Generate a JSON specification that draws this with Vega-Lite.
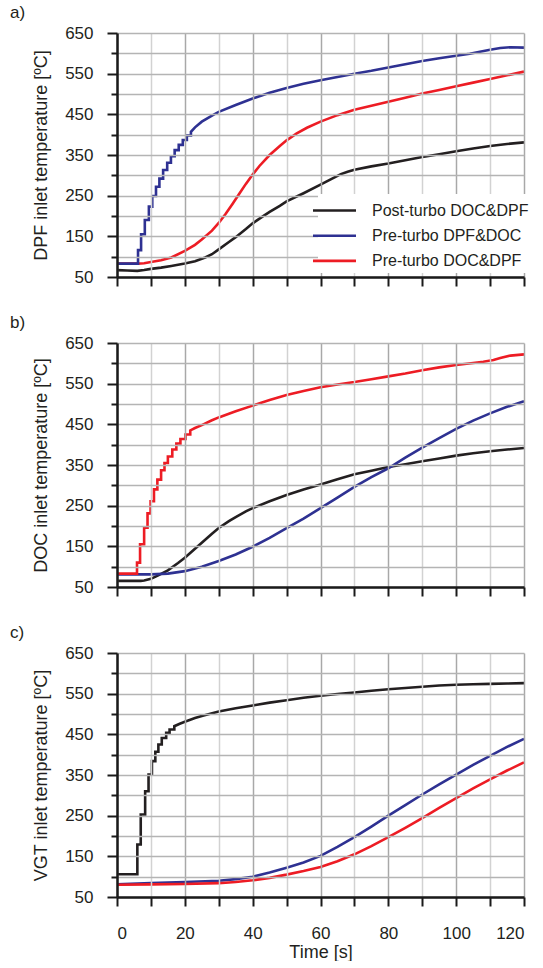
{
  "$schema": "https://vega.github.io/schema/vega-lite/v6.json",
  "padding": {"left": 10, "top": 4, "right": 0, "bottom": 0},
  "bounds": "flush",
  "spacing": 66,
  "config": {
    "font": "Liberation Sans",
    "view": {"stroke": null},
    "axis": {
      "labelFont": "Liberation Sans",
      "labelFontSize": 17,
      "labelColor": "#231f20",
      "titleFont": "Liberation Sans",
      "titleFontSize": 18,
      "titleFontWeight": "normal",
      "titleColor": "#231f20",
      "domainColor": "#1a1a1a",
      "domainWidth": 2.5,
      "tickColor": "#1a1a1a",
      "tickWidth": 2,
      "grid": true,
      "gridWidth": 1.5,
      "gridOpacity": 1,
      "zindex": 1
    },
    "title": {"font": "Liberation Sans", "fontSize": 17, "fontWeight": "normal", "color": "#231f20"},
    "line": {"strokeWidth": 2.6}
  },
  "resolve": {"scale": {"color": "independent"}, "legend": {"color": "independent"}},
  "datasets": {
    "temps": [
      {"panel": "a", "setup": "Post-turbo DOC&DPF", "time": 0, "temp": 67},
      {"panel": "a", "setup": "Post-turbo DOC&DPF", "time": 3, "temp": 66},
      {"panel": "a", "setup": "Post-turbo DOC&DPF", "time": 6, "temp": 65},
      {"panel": "a", "setup": "Post-turbo DOC&DPF", "time": 8, "temp": 67},
      {"panel": "a", "setup": "Post-turbo DOC&DPF", "time": 10, "temp": 70},
      {"panel": "a", "setup": "Post-turbo DOC&DPF", "time": 13, "temp": 73},
      {"panel": "a", "setup": "Post-turbo DOC&DPF", "time": 16, "temp": 77},
      {"panel": "a", "setup": "Post-turbo DOC&DPF", "time": 20, "temp": 83},
      {"panel": "a", "setup": "Post-turbo DOC&DPF", "time": 23, "temp": 89},
      {"panel": "a", "setup": "Post-turbo DOC&DPF", "time": 26, "temp": 98},
      {"panel": "a", "setup": "Post-turbo DOC&DPF", "time": 28, "temp": 106},
      {"panel": "a", "setup": "Post-turbo DOC&DPF", "time": 30, "temp": 118},
      {"panel": "a", "setup": "Post-turbo DOC&DPF", "time": 33, "temp": 136},
      {"panel": "a", "setup": "Post-turbo DOC&DPF", "time": 35, "temp": 148},
      {"panel": "a", "setup": "Post-turbo DOC&DPF", "time": 38, "temp": 168},
      {"panel": "a", "setup": "Post-turbo DOC&DPF", "time": 40, "temp": 182},
      {"panel": "a", "setup": "Post-turbo DOC&DPF", "time": 43, "temp": 199},
      {"panel": "a", "setup": "Post-turbo DOC&DPF", "time": 45, "temp": 210},
      {"panel": "a", "setup": "Post-turbo DOC&DPF", "time": 48, "temp": 225},
      {"panel": "a", "setup": "Post-turbo DOC&DPF", "time": 50, "temp": 236},
      {"panel": "a", "setup": "Post-turbo DOC&DPF", "time": 55, "temp": 256},
      {"panel": "a", "setup": "Post-turbo DOC&DPF", "time": 60, "temp": 277},
      {"panel": "a", "setup": "Post-turbo DOC&DPF", "time": 63, "temp": 290},
      {"panel": "a", "setup": "Post-turbo DOC&DPF", "time": 66, "temp": 303},
      {"panel": "a", "setup": "Post-turbo DOC&DPF", "time": 68, "temp": 309},
      {"panel": "a", "setup": "Post-turbo DOC&DPF", "time": 70, "temp": 314},
      {"panel": "a", "setup": "Post-turbo DOC&DPF", "time": 75, "temp": 322},
      {"panel": "a", "setup": "Post-turbo DOC&DPF", "time": 80, "temp": 329},
      {"panel": "a", "setup": "Post-turbo DOC&DPF", "time": 85, "temp": 337},
      {"panel": "a", "setup": "Post-turbo DOC&DPF", "time": 90, "temp": 345},
      {"panel": "a", "setup": "Post-turbo DOC&DPF", "time": 95, "temp": 352},
      {"panel": "a", "setup": "Post-turbo DOC&DPF", "time": 100, "temp": 359},
      {"panel": "a", "setup": "Post-turbo DOC&DPF", "time": 105, "temp": 366},
      {"panel": "a", "setup": "Post-turbo DOC&DPF", "time": 110, "temp": 372},
      {"panel": "a", "setup": "Post-turbo DOC&DPF", "time": 115, "temp": 377},
      {"panel": "a", "setup": "Post-turbo DOC&DPF", "time": 120, "temp": 381},

      {"panel": "a", "setup": "Pre-turbo DOC&DPF", "time": 0, "temp": 83},
      {"panel": "a", "setup": "Pre-turbo DOC&DPF", "time": 6, "temp": 83},
      {"panel": "a", "setup": "Pre-turbo DOC&DPF", "time": 8, "temp": 84},
      {"panel": "a", "setup": "Pre-turbo DOC&DPF", "time": 10, "temp": 87},
      {"panel": "a", "setup": "Pre-turbo DOC&DPF", "time": 13, "temp": 91},
      {"panel": "a", "setup": "Pre-turbo DOC&DPF", "time": 16, "temp": 98},
      {"panel": "a", "setup": "Pre-turbo DOC&DPF", "time": 20, "temp": 114},
      {"panel": "a", "setup": "Pre-turbo DOC&DPF", "time": 23, "temp": 129},
      {"panel": "a", "setup": "Pre-turbo DOC&DPF", "time": 25, "temp": 142},
      {"panel": "a", "setup": "Pre-turbo DOC&DPF", "time": 28, "temp": 164},
      {"panel": "a", "setup": "Pre-turbo DOC&DPF", "time": 30, "temp": 183},
      {"panel": "a", "setup": "Pre-turbo DOC&DPF", "time": 32, "temp": 205},
      {"panel": "a", "setup": "Pre-turbo DOC&DPF", "time": 34, "temp": 229},
      {"panel": "a", "setup": "Pre-turbo DOC&DPF", "time": 36, "temp": 254},
      {"panel": "a", "setup": "Pre-turbo DOC&DPF", "time": 38, "temp": 279},
      {"panel": "a", "setup": "Pre-turbo DOC&DPF", "time": 40, "temp": 302},
      {"panel": "a", "setup": "Pre-turbo DOC&DPF", "time": 42, "temp": 323},
      {"panel": "a", "setup": "Pre-turbo DOC&DPF", "time": 45, "temp": 350},
      {"panel": "a", "setup": "Pre-turbo DOC&DPF", "time": 48, "temp": 372},
      {"panel": "a", "setup": "Pre-turbo DOC&DPF", "time": 50, "temp": 386},
      {"panel": "a", "setup": "Pre-turbo DOC&DPF", "time": 53, "temp": 403},
      {"panel": "a", "setup": "Pre-turbo DOC&DPF", "time": 56, "temp": 417},
      {"panel": "a", "setup": "Pre-turbo DOC&DPF", "time": 60, "temp": 432},
      {"panel": "a", "setup": "Pre-turbo DOC&DPF", "time": 65, "temp": 448},
      {"panel": "a", "setup": "Pre-turbo DOC&DPF", "time": 70, "temp": 461},
      {"panel": "a", "setup": "Pre-turbo DOC&DPF", "time": 75, "temp": 471},
      {"panel": "a", "setup": "Pre-turbo DOC&DPF", "time": 80, "temp": 481},
      {"panel": "a", "setup": "Pre-turbo DOC&DPF", "time": 85, "temp": 491},
      {"panel": "a", "setup": "Pre-turbo DOC&DPF", "time": 90, "temp": 501},
      {"panel": "a", "setup": "Pre-turbo DOC&DPF", "time": 95, "temp": 510},
      {"panel": "a", "setup": "Pre-turbo DOC&DPF", "time": 100, "temp": 519},
      {"panel": "a", "setup": "Pre-turbo DOC&DPF", "time": 105, "temp": 528},
      {"panel": "a", "setup": "Pre-turbo DOC&DPF", "time": 110, "temp": 537},
      {"panel": "a", "setup": "Pre-turbo DOC&DPF", "time": 115, "temp": 546},
      {"panel": "a", "setup": "Pre-turbo DOC&DPF", "time": 120, "temp": 555},

      {"panel": "a", "setup": "Pre-turbo DPF&DOC", "time": 0, "temp": 83},
      {"panel": "a", "setup": "Pre-turbo DPF&DOC", "time": 6.2, "temp": 83},
      {"panel": "a", "setup": "Pre-turbo DPF&DOC", "time": 6.2, "temp": 116},
      {"panel": "a", "setup": "Pre-turbo DPF&DOC", "time": 7.1, "temp": 116},
      {"panel": "a", "setup": "Pre-turbo DPF&DOC", "time": 7.1, "temp": 155},
      {"panel": "a", "setup": "Pre-turbo DPF&DOC", "time": 8.2, "temp": 155},
      {"panel": "a", "setup": "Pre-turbo DPF&DOC", "time": 8.2, "temp": 190},
      {"panel": "a", "setup": "Pre-turbo DPF&DOC", "time": 9.4, "temp": 190},
      {"panel": "a", "setup": "Pre-turbo DPF&DOC", "time": 9.4, "temp": 223},
      {"panel": "a", "setup": "Pre-turbo DPF&DOC", "time": 10.4, "temp": 223},
      {"panel": "a", "setup": "Pre-turbo DPF&DOC", "time": 10.4, "temp": 249},
      {"panel": "a", "setup": "Pre-turbo DPF&DOC", "time": 11.5, "temp": 249},
      {"panel": "a", "setup": "Pre-turbo DPF&DOC", "time": 11.5, "temp": 272},
      {"panel": "a", "setup": "Pre-turbo DPF&DOC", "time": 12.5, "temp": 272},
      {"panel": "a", "setup": "Pre-turbo DPF&DOC", "time": 12.5, "temp": 292},
      {"panel": "a", "setup": "Pre-turbo DPF&DOC", "time": 13.6, "temp": 292},
      {"panel": "a", "setup": "Pre-turbo DPF&DOC", "time": 13.6, "temp": 313},
      {"panel": "a", "setup": "Pre-turbo DPF&DOC", "time": 14.8, "temp": 313},
      {"panel": "a", "setup": "Pre-turbo DPF&DOC", "time": 14.8, "temp": 331},
      {"panel": "a", "setup": "Pre-turbo DPF&DOC", "time": 15.9, "temp": 331},
      {"panel": "a", "setup": "Pre-turbo DPF&DOC", "time": 15.9, "temp": 347},
      {"panel": "a", "setup": "Pre-turbo DPF&DOC", "time": 17.0, "temp": 347},
      {"panel": "a", "setup": "Pre-turbo DPF&DOC", "time": 17.0, "temp": 362},
      {"panel": "a", "setup": "Pre-turbo DPF&DOC", "time": 18.2, "temp": 362},
      {"panel": "a", "setup": "Pre-turbo DPF&DOC", "time": 18.2, "temp": 375},
      {"panel": "a", "setup": "Pre-turbo DPF&DOC", "time": 19.4, "temp": 375},
      {"panel": "a", "setup": "Pre-turbo DPF&DOC", "time": 19.4, "temp": 387},
      {"panel": "a", "setup": "Pre-turbo DPF&DOC", "time": 20.6, "temp": 387},
      {"panel": "a", "setup": "Pre-turbo DPF&DOC", "time": 20.6, "temp": 398},
      {"panel": "a", "setup": "Pre-turbo DPF&DOC", "time": 21.8, "temp": 398},
      {"panel": "a", "setup": "Pre-turbo DPF&DOC", "time": 21.8, "temp": 407},
      {"panel": "a", "setup": "Pre-turbo DPF&DOC", "time": 23, "temp": 418},
      {"panel": "a", "setup": "Pre-turbo DPF&DOC", "time": 25, "temp": 432},
      {"panel": "a", "setup": "Pre-turbo DPF&DOC", "time": 28, "temp": 447},
      {"panel": "a", "setup": "Pre-turbo DPF&DOC", "time": 30, "temp": 456},
      {"panel": "a", "setup": "Pre-turbo DPF&DOC", "time": 35, "temp": 473},
      {"panel": "a", "setup": "Pre-turbo DPF&DOC", "time": 40, "temp": 489},
      {"panel": "a", "setup": "Pre-turbo DPF&DOC", "time": 45, "temp": 503},
      {"panel": "a", "setup": "Pre-turbo DPF&DOC", "time": 50, "temp": 515},
      {"panel": "a", "setup": "Pre-turbo DPF&DOC", "time": 55, "temp": 525},
      {"panel": "a", "setup": "Pre-turbo DPF&DOC", "time": 60, "temp": 534},
      {"panel": "a", "setup": "Pre-turbo DPF&DOC", "time": 65, "temp": 542},
      {"panel": "a", "setup": "Pre-turbo DPF&DOC", "time": 70, "temp": 550},
      {"panel": "a", "setup": "Pre-turbo DPF&DOC", "time": 75, "temp": 557},
      {"panel": "a", "setup": "Pre-turbo DPF&DOC", "time": 80, "temp": 565},
      {"panel": "a", "setup": "Pre-turbo DPF&DOC", "time": 85, "temp": 573},
      {"panel": "a", "setup": "Pre-turbo DPF&DOC", "time": 90, "temp": 581},
      {"panel": "a", "setup": "Pre-turbo DPF&DOC", "time": 95, "temp": 588},
      {"panel": "a", "setup": "Pre-turbo DPF&DOC", "time": 100, "temp": 594},
      {"panel": "a", "setup": "Pre-turbo DPF&DOC", "time": 104, "temp": 599},
      {"panel": "a", "setup": "Pre-turbo DPF&DOC", "time": 107, "temp": 604},
      {"panel": "a", "setup": "Pre-turbo DPF&DOC", "time": 110, "temp": 609},
      {"panel": "a", "setup": "Pre-turbo DPF&DOC", "time": 113, "temp": 613},
      {"panel": "a", "setup": "Pre-turbo DPF&DOC", "time": 116, "temp": 615},
      {"panel": "a", "setup": "Pre-turbo DPF&DOC", "time": 120, "temp": 614},

      {"panel": "b", "setup": "Post-turbo DOC&DPF", "time": 0, "temp": 65},
      {"panel": "b", "setup": "Post-turbo DOC&DPF", "time": 7, "temp": 65},
      {"panel": "b", "setup": "Post-turbo DOC&DPF", "time": 8, "temp": 66},
      {"panel": "b", "setup": "Post-turbo DOC&DPF", "time": 10, "temp": 70},
      {"panel": "b", "setup": "Post-turbo DOC&DPF", "time": 12, "temp": 78},
      {"panel": "b", "setup": "Post-turbo DOC&DPF", "time": 15, "temp": 91},
      {"panel": "b", "setup": "Post-turbo DOC&DPF", "time": 18, "temp": 109},
      {"panel": "b", "setup": "Post-turbo DOC&DPF", "time": 20, "temp": 122},
      {"panel": "b", "setup": "Post-turbo DOC&DPF", "time": 23, "temp": 144},
      {"panel": "b", "setup": "Post-turbo DOC&DPF", "time": 25, "temp": 159},
      {"panel": "b", "setup": "Post-turbo DOC&DPF", "time": 28, "temp": 181},
      {"panel": "b", "setup": "Post-turbo DOC&DPF", "time": 30, "temp": 195},
      {"panel": "b", "setup": "Post-turbo DOC&DPF", "time": 33, "temp": 212},
      {"panel": "b", "setup": "Post-turbo DOC&DPF", "time": 35, "temp": 222},
      {"panel": "b", "setup": "Post-turbo DOC&DPF", "time": 38, "temp": 236},
      {"panel": "b", "setup": "Post-turbo DOC&DPF", "time": 40, "temp": 244},
      {"panel": "b", "setup": "Post-turbo DOC&DPF", "time": 45, "temp": 261},
      {"panel": "b", "setup": "Post-turbo DOC&DPF", "time": 50, "temp": 276},
      {"panel": "b", "setup": "Post-turbo DOC&DPF", "time": 55, "temp": 290},
      {"panel": "b", "setup": "Post-turbo DOC&DPF", "time": 60, "temp": 302},
      {"panel": "b", "setup": "Post-turbo DOC&DPF", "time": 65, "temp": 315},
      {"panel": "b", "setup": "Post-turbo DOC&DPF", "time": 70, "temp": 327},
      {"panel": "b", "setup": "Post-turbo DOC&DPF", "time": 75, "temp": 336},
      {"panel": "b", "setup": "Post-turbo DOC&DPF", "time": 80, "temp": 345},
      {"panel": "b", "setup": "Post-turbo DOC&DPF", "time": 85, "temp": 352},
      {"panel": "b", "setup": "Post-turbo DOC&DPF", "time": 90, "temp": 359},
      {"panel": "b", "setup": "Post-turbo DOC&DPF", "time": 95, "temp": 366},
      {"panel": "b", "setup": "Post-turbo DOC&DPF", "time": 100, "temp": 373},
      {"panel": "b", "setup": "Post-turbo DOC&DPF", "time": 105, "temp": 379},
      {"panel": "b", "setup": "Post-turbo DOC&DPF", "time": 110, "temp": 384},
      {"panel": "b", "setup": "Post-turbo DOC&DPF", "time": 115, "temp": 388},
      {"panel": "b", "setup": "Post-turbo DOC&DPF", "time": 120, "temp": 392},

      {"panel": "b", "setup": "Pre-turbo DPF&DOC", "time": 0, "temp": 81},
      {"panel": "b", "setup": "Pre-turbo DPF&DOC", "time": 10, "temp": 81},
      {"panel": "b", "setup": "Pre-turbo DPF&DOC", "time": 15, "temp": 83},
      {"panel": "b", "setup": "Pre-turbo DPF&DOC", "time": 20, "temp": 89},
      {"panel": "b", "setup": "Pre-turbo DPF&DOC", "time": 25, "temp": 100},
      {"panel": "b", "setup": "Pre-turbo DPF&DOC", "time": 30, "temp": 114},
      {"panel": "b", "setup": "Pre-turbo DPF&DOC", "time": 35, "temp": 130},
      {"panel": "b", "setup": "Pre-turbo DPF&DOC", "time": 40, "temp": 149},
      {"panel": "b", "setup": "Pre-turbo DPF&DOC", "time": 45, "temp": 171},
      {"panel": "b", "setup": "Pre-turbo DPF&DOC", "time": 50, "temp": 195},
      {"panel": "b", "setup": "Pre-turbo DPF&DOC", "time": 55, "temp": 218},
      {"panel": "b", "setup": "Pre-turbo DPF&DOC", "time": 60, "temp": 244},
      {"panel": "b", "setup": "Pre-turbo DPF&DOC", "time": 65, "temp": 270},
      {"panel": "b", "setup": "Pre-turbo DPF&DOC", "time": 70, "temp": 296},
      {"panel": "b", "setup": "Pre-turbo DPF&DOC", "time": 75, "temp": 320},
      {"panel": "b", "setup": "Pre-turbo DPF&DOC", "time": 80, "temp": 342},
      {"panel": "b", "setup": "Pre-turbo DPF&DOC", "time": 85, "temp": 368},
      {"panel": "b", "setup": "Pre-turbo DPF&DOC", "time": 90, "temp": 393},
      {"panel": "b", "setup": "Pre-turbo DPF&DOC", "time": 95, "temp": 416},
      {"panel": "b", "setup": "Pre-turbo DPF&DOC", "time": 100, "temp": 439},
      {"panel": "b", "setup": "Pre-turbo DPF&DOC", "time": 105, "temp": 459},
      {"panel": "b", "setup": "Pre-turbo DPF&DOC", "time": 110, "temp": 477},
      {"panel": "b", "setup": "Pre-turbo DPF&DOC", "time": 115, "temp": 493},
      {"panel": "b", "setup": "Pre-turbo DPF&DOC", "time": 120, "temp": 507},

      {"panel": "b", "setup": "Pre-turbo DOC&DPF", "time": 0, "temp": 83},
      {"panel": "b", "setup": "Pre-turbo DOC&DPF", "time": 5.9, "temp": 83},
      {"panel": "b", "setup": "Pre-turbo DOC&DPF", "time": 5.9, "temp": 110},
      {"panel": "b", "setup": "Pre-turbo DOC&DPF", "time": 6.8, "temp": 110},
      {"panel": "b", "setup": "Pre-turbo DOC&DPF", "time": 6.8, "temp": 155},
      {"panel": "b", "setup": "Pre-turbo DOC&DPF", "time": 8.0, "temp": 155},
      {"panel": "b", "setup": "Pre-turbo DOC&DPF", "time": 8.0, "temp": 196},
      {"panel": "b", "setup": "Pre-turbo DOC&DPF", "time": 9.0, "temp": 196},
      {"panel": "b", "setup": "Pre-turbo DOC&DPF", "time": 9.0, "temp": 231},
      {"panel": "b", "setup": "Pre-turbo DOC&DPF", "time": 9.9, "temp": 231},
      {"panel": "b", "setup": "Pre-turbo DOC&DPF", "time": 9.9, "temp": 261},
      {"panel": "b", "setup": "Pre-turbo DOC&DPF", "time": 10.9, "temp": 261},
      {"panel": "b", "setup": "Pre-turbo DOC&DPF", "time": 10.9, "temp": 290},
      {"panel": "b", "setup": "Pre-turbo DOC&DPF", "time": 11.9, "temp": 290},
      {"panel": "b", "setup": "Pre-turbo DOC&DPF", "time": 11.9, "temp": 314},
      {"panel": "b", "setup": "Pre-turbo DOC&DPF", "time": 13.0, "temp": 314},
      {"panel": "b", "setup": "Pre-turbo DOC&DPF", "time": 13.0, "temp": 337},
      {"panel": "b", "setup": "Pre-turbo DOC&DPF", "time": 14.0, "temp": 337},
      {"panel": "b", "setup": "Pre-turbo DOC&DPF", "time": 14.0, "temp": 355},
      {"panel": "b", "setup": "Pre-turbo DOC&DPF", "time": 15.0, "temp": 355},
      {"panel": "b", "setup": "Pre-turbo DOC&DPF", "time": 15.0, "temp": 371},
      {"panel": "b", "setup": "Pre-turbo DOC&DPF", "time": 16.3, "temp": 371},
      {"panel": "b", "setup": "Pre-turbo DOC&DPF", "time": 16.3, "temp": 388},
      {"panel": "b", "setup": "Pre-turbo DOC&DPF", "time": 17.5, "temp": 388},
      {"panel": "b", "setup": "Pre-turbo DOC&DPF", "time": 17.5, "temp": 403},
      {"panel": "b", "setup": "Pre-turbo DOC&DPF", "time": 18.7, "temp": 403},
      {"panel": "b", "setup": "Pre-turbo DOC&DPF", "time": 18.7, "temp": 414},
      {"panel": "b", "setup": "Pre-turbo DOC&DPF", "time": 20.2, "temp": 414},
      {"panel": "b", "setup": "Pre-turbo DOC&DPF", "time": 20.2, "temp": 425},
      {"panel": "b", "setup": "Pre-turbo DOC&DPF", "time": 21.6, "temp": 425},
      {"panel": "b", "setup": "Pre-turbo DOC&DPF", "time": 21.6, "temp": 435},
      {"panel": "b", "setup": "Pre-turbo DOC&DPF", "time": 23, "temp": 441},
      {"panel": "b", "setup": "Pre-turbo DOC&DPF", "time": 25, "temp": 448},
      {"panel": "b", "setup": "Pre-turbo DOC&DPF", "time": 28, "temp": 460},
      {"panel": "b", "setup": "Pre-turbo DOC&DPF", "time": 30, "temp": 467},
      {"panel": "b", "setup": "Pre-turbo DOC&DPF", "time": 35, "temp": 482},
      {"panel": "b", "setup": "Pre-turbo DOC&DPF", "time": 40, "temp": 496},
      {"panel": "b", "setup": "Pre-turbo DOC&DPF", "time": 45, "temp": 510},
      {"panel": "b", "setup": "Pre-turbo DOC&DPF", "time": 50, "temp": 522},
      {"panel": "b", "setup": "Pre-turbo DOC&DPF", "time": 55, "temp": 532},
      {"panel": "b", "setup": "Pre-turbo DOC&DPF", "time": 60, "temp": 541},
      {"panel": "b", "setup": "Pre-turbo DOC&DPF", "time": 65, "temp": 548},
      {"panel": "b", "setup": "Pre-turbo DOC&DPF", "time": 70, "temp": 554},
      {"panel": "b", "setup": "Pre-turbo DOC&DPF", "time": 75, "temp": 561},
      {"panel": "b", "setup": "Pre-turbo DOC&DPF", "time": 80, "temp": 568},
      {"panel": "b", "setup": "Pre-turbo DOC&DPF", "time": 85, "temp": 575},
      {"panel": "b", "setup": "Pre-turbo DOC&DPF", "time": 90, "temp": 583},
      {"panel": "b", "setup": "Pre-turbo DOC&DPF", "time": 95, "temp": 590},
      {"panel": "b", "setup": "Pre-turbo DOC&DPF", "time": 100, "temp": 596},
      {"panel": "b", "setup": "Pre-turbo DOC&DPF", "time": 105, "temp": 601},
      {"panel": "b", "setup": "Pre-turbo DOC&DPF", "time": 108, "temp": 604},
      {"panel": "b", "setup": "Pre-turbo DOC&DPF", "time": 111, "temp": 608},
      {"panel": "b", "setup": "Pre-turbo DOC&DPF", "time": 113, "temp": 613},
      {"panel": "b", "setup": "Pre-turbo DOC&DPF", "time": 116, "temp": 619},
      {"panel": "b", "setup": "Pre-turbo DOC&DPF", "time": 120, "temp": 622},

      {"panel": "c", "setup": "Post-turbo DOC&DPF", "time": 0, "temp": 106},
      {"panel": "c", "setup": "Post-turbo DOC&DPF", "time": 6.0, "temp": 106},
      {"panel": "c", "setup": "Post-turbo DOC&DPF", "time": 6.0, "temp": 179},
      {"panel": "c", "setup": "Post-turbo DOC&DPF", "time": 7.0, "temp": 179},
      {"panel": "c", "setup": "Post-turbo DOC&DPF", "time": 7.0, "temp": 253},
      {"panel": "c", "setup": "Post-turbo DOC&DPF", "time": 8.3, "temp": 253},
      {"panel": "c", "setup": "Post-turbo DOC&DPF", "time": 8.3, "temp": 310},
      {"panel": "c", "setup": "Post-turbo DOC&DPF", "time": 9.3, "temp": 310},
      {"panel": "c", "setup": "Post-turbo DOC&DPF", "time": 9.3, "temp": 351},
      {"panel": "c", "setup": "Post-turbo DOC&DPF", "time": 10.3, "temp": 351},
      {"panel": "c", "setup": "Post-turbo DOC&DPF", "time": 10.3, "temp": 384},
      {"panel": "c", "setup": "Post-turbo DOC&DPF", "time": 11.3, "temp": 384},
      {"panel": "c", "setup": "Post-turbo DOC&DPF", "time": 11.3, "temp": 407},
      {"panel": "c", "setup": "Post-turbo DOC&DPF", "time": 12.2, "temp": 407},
      {"panel": "c", "setup": "Post-turbo DOC&DPF", "time": 12.2, "temp": 425},
      {"panel": "c", "setup": "Post-turbo DOC&DPF", "time": 13.2, "temp": 425},
      {"panel": "c", "setup": "Post-turbo DOC&DPF", "time": 13.2, "temp": 441},
      {"panel": "c", "setup": "Post-turbo DOC&DPF", "time": 14.5, "temp": 441},
      {"panel": "c", "setup": "Post-turbo DOC&DPF", "time": 14.5, "temp": 454},
      {"panel": "c", "setup": "Post-turbo DOC&DPF", "time": 15.5, "temp": 454},
      {"panel": "c", "setup": "Post-turbo DOC&DPF", "time": 15.5, "temp": 462},
      {"panel": "c", "setup": "Post-turbo DOC&DPF", "time": 16.9, "temp": 462},
      {"panel": "c", "setup": "Post-turbo DOC&DPF", "time": 16.9, "temp": 470},
      {"panel": "c", "setup": "Post-turbo DOC&DPF", "time": 18.5, "temp": 476},
      {"panel": "c", "setup": "Post-turbo DOC&DPF", "time": 20, "temp": 481},
      {"panel": "c", "setup": "Post-turbo DOC&DPF", "time": 23, "temp": 490},
      {"panel": "c", "setup": "Post-turbo DOC&DPF", "time": 25, "temp": 495},
      {"panel": "c", "setup": "Post-turbo DOC&DPF", "time": 30, "temp": 506},
      {"panel": "c", "setup": "Post-turbo DOC&DPF", "time": 35, "temp": 514},
      {"panel": "c", "setup": "Post-turbo DOC&DPF", "time": 40, "temp": 521},
      {"panel": "c", "setup": "Post-turbo DOC&DPF", "time": 45, "temp": 528},
      {"panel": "c", "setup": "Post-turbo DOC&DPF", "time": 50, "temp": 534},
      {"panel": "c", "setup": "Post-turbo DOC&DPF", "time": 55, "temp": 540},
      {"panel": "c", "setup": "Post-turbo DOC&DPF", "time": 60, "temp": 545},
      {"panel": "c", "setup": "Post-turbo DOC&DPF", "time": 65, "temp": 549},
      {"panel": "c", "setup": "Post-turbo DOC&DPF", "time": 70, "temp": 553},
      {"panel": "c", "setup": "Post-turbo DOC&DPF", "time": 75, "temp": 557},
      {"panel": "c", "setup": "Post-turbo DOC&DPF", "time": 80, "temp": 561},
      {"panel": "c", "setup": "Post-turbo DOC&DPF", "time": 85, "temp": 564},
      {"panel": "c", "setup": "Post-turbo DOC&DPF", "time": 90, "temp": 567},
      {"panel": "c", "setup": "Post-turbo DOC&DPF", "time": 95, "temp": 570},
      {"panel": "c", "setup": "Post-turbo DOC&DPF", "time": 100, "temp": 572},
      {"panel": "c", "setup": "Post-turbo DOC&DPF", "time": 105, "temp": 573},
      {"panel": "c", "setup": "Post-turbo DOC&DPF", "time": 110, "temp": 574},
      {"panel": "c", "setup": "Post-turbo DOC&DPF", "time": 115, "temp": 575},
      {"panel": "c", "setup": "Post-turbo DOC&DPF", "time": 120, "temp": 576},

      {"panel": "c", "setup": "Pre-turbo DPF&DOC", "time": 0, "temp": 81},
      {"panel": "c", "setup": "Pre-turbo DPF&DOC", "time": 10, "temp": 84},
      {"panel": "c", "setup": "Pre-turbo DPF&DOC", "time": 20, "temp": 87},
      {"panel": "c", "setup": "Pre-turbo DPF&DOC", "time": 30, "temp": 90},
      {"panel": "c", "setup": "Pre-turbo DPF&DOC", "time": 35, "temp": 94},
      {"panel": "c", "setup": "Pre-turbo DPF&DOC", "time": 40, "temp": 100},
      {"panel": "c", "setup": "Pre-turbo DPF&DOC", "time": 45, "temp": 110},
      {"panel": "c", "setup": "Pre-turbo DPF&DOC", "time": 50, "temp": 122},
      {"panel": "c", "setup": "Pre-turbo DPF&DOC", "time": 55, "temp": 135},
      {"panel": "c", "setup": "Pre-turbo DPF&DOC", "time": 60, "temp": 151},
      {"panel": "c", "setup": "Pre-turbo DPF&DOC", "time": 65, "temp": 173},
      {"panel": "c", "setup": "Pre-turbo DPF&DOC", "time": 70, "temp": 197},
      {"panel": "c", "setup": "Pre-turbo DPF&DOC", "time": 75, "temp": 223},
      {"panel": "c", "setup": "Pre-turbo DPF&DOC", "time": 80, "temp": 250},
      {"panel": "c", "setup": "Pre-turbo DPF&DOC", "time": 85, "temp": 276},
      {"panel": "c", "setup": "Pre-turbo DPF&DOC", "time": 90, "temp": 302},
      {"panel": "c", "setup": "Pre-turbo DPF&DOC", "time": 95, "temp": 327},
      {"panel": "c", "setup": "Pre-turbo DPF&DOC", "time": 100, "temp": 351},
      {"panel": "c", "setup": "Pre-turbo DPF&DOC", "time": 105, "temp": 375},
      {"panel": "c", "setup": "Pre-turbo DPF&DOC", "time": 110, "temp": 397},
      {"panel": "c", "setup": "Pre-turbo DPF&DOC", "time": 115, "temp": 419},
      {"panel": "c", "setup": "Pre-turbo DPF&DOC", "time": 120, "temp": 439},

      {"panel": "c", "setup": "Pre-turbo DOC&DPF", "time": 0, "temp": 80},
      {"panel": "c", "setup": "Pre-turbo DOC&DPF", "time": 10, "temp": 81},
      {"panel": "c", "setup": "Pre-turbo DOC&DPF", "time": 20, "temp": 82},
      {"panel": "c", "setup": "Pre-turbo DOC&DPF", "time": 30, "temp": 84},
      {"panel": "c", "setup": "Pre-turbo DOC&DPF", "time": 35, "temp": 87},
      {"panel": "c", "setup": "Pre-turbo DOC&DPF", "time": 40, "temp": 91},
      {"panel": "c", "setup": "Pre-turbo DOC&DPF", "time": 45, "temp": 97},
      {"panel": "c", "setup": "Pre-turbo DOC&DPF", "time": 50, "temp": 105},
      {"panel": "c", "setup": "Pre-turbo DOC&DPF", "time": 55, "temp": 114},
      {"panel": "c", "setup": "Pre-turbo DOC&DPF", "time": 60, "temp": 124},
      {"panel": "c", "setup": "Pre-turbo DOC&DPF", "time": 65, "temp": 138},
      {"panel": "c", "setup": "Pre-turbo DOC&DPF", "time": 70, "temp": 155},
      {"panel": "c", "setup": "Pre-turbo DOC&DPF", "time": 75, "temp": 175},
      {"panel": "c", "setup": "Pre-turbo DOC&DPF", "time": 80, "temp": 197},
      {"panel": "c", "setup": "Pre-turbo DOC&DPF", "time": 85, "temp": 220},
      {"panel": "c", "setup": "Pre-turbo DOC&DPF", "time": 90, "temp": 244},
      {"panel": "c", "setup": "Pre-turbo DOC&DPF", "time": 95, "temp": 269},
      {"panel": "c", "setup": "Pre-turbo DOC&DPF", "time": 100, "temp": 293},
      {"panel": "c", "setup": "Pre-turbo DOC&DPF", "time": 105, "temp": 317},
      {"panel": "c", "setup": "Pre-turbo DOC&DPF", "time": 110, "temp": 339},
      {"panel": "c", "setup": "Pre-turbo DOC&DPF", "time": 115, "temp": 361},
      {"panel": "c", "setup": "Pre-turbo DOC&DPF", "time": 120, "temp": 381}
    ]
  },
  "vconcat": [
    {
      "title": {"text": "a)", "anchor": "start", "frame": "group", "dx": -107, "offset": -11, "baseline": "alphabetic"},
      "width": 407,
      "height": 244,
      "data": {"name": "temps"},
      "transform": [{"filter": "datum.panel === 'a'"}],
      "mark": {"type": "line", "strokeWidth": 2.6},
      "encoding": {
        "x": {"field": "time", "type": "quantitative", "scale": {"domain": [0, 120], "nice": false},
          "axis": {"title": null, "values": [0, 10, 20, 30, 40, 50, 60, 70, 80, 90, 100, 110, 120], "labels": false, "tickSize": 9, "zindex": 1,
            "gridColor": {"condition": {"test": "datum.value % 20 === 0", "value": "#a8a8a8"}, "value": "#d2d2d2"}}},
        "y": {"field": "temp", "type": "quantitative", "scale": {"domain": [50, 650], "nice": false, "zero": false},
          "axis": {"title": "DPF inlet temperature [ºC]", "values": [50, 100, 150, 200, 250, 300, 350, 400, 450, 500, 550, 600, 650],
            "labelExpr": "datum.value % 100 === 50 ? datum.label : ''", "zindex": 1,
            "tickSize": {"condition": {"test": "datum.value % 100 === 50", "value": 10}, "value": 6},
            "gridColor": "#b4b4b4", "labelPadding": 14, "titlePadding": 14}},
        "color": {"field": "setup", "type": "nominal",
          "scale": {"domain": ["Post-turbo DOC&DPF", "Pre-turbo DPF&DOC", "Pre-turbo DOC&DPF"], "range": ["#231f20", "#2e3192", "#ed1c24"]},
          "legend": {"orient": "none", "legendX": 201, "legendY": 161, "title": null, "symbolType": "M-2,0H2", "symbolSize": 462,
            "symbolStrokeWidth": 3.5, "labelFontSize": 16, "labelFont": "Liberation Sans", "labelColor": "#231f20", "labelOffset": 25,
            "rowPadding": 4.2, "fillColor": "#ffffff", "padding": 4, "labelLimit": 300, "zindex": 2}},
        "order": [{"field": "time"}, {"field": "temp"}]
      }
    },
    {
      "title": {"text": "b)", "anchor": "start", "frame": "group", "dx": -107, "offset": -11, "baseline": "alphabetic"},
      "width": 407,
      "height": 244,
      "data": {"name": "temps"},
      "transform": [{"filter": "datum.panel === 'b'"}],
      "mark": {"type": "line", "strokeWidth": 2.6},
      "encoding": {
        "x": {"field": "time", "type": "quantitative", "scale": {"domain": [0, 120], "nice": false},
          "axis": {"title": null, "values": [0, 10, 20, 30, 40, 50, 60, 70, 80, 90, 100, 110, 120], "labels": false, "tickSize": 9, "zindex": 1,
            "gridColor": {"condition": {"test": "datum.value % 20 === 0", "value": "#a8a8a8"}, "value": "#d2d2d2"}}},
        "y": {"field": "temp", "type": "quantitative", "scale": {"domain": [50, 650], "nice": false, "zero": false},
          "axis": {"title": "DOC inlet temperature [ºC]", "values": [50, 100, 150, 200, 250, 300, 350, 400, 450, 500, 550, 600, 650],
            "labelExpr": "datum.value % 100 === 50 ? datum.label : ''", "zindex": 1,
            "tickSize": {"condition": {"test": "datum.value % 100 === 50", "value": 10}, "value": 6},
            "gridColor": "#b4b4b4", "labelPadding": 14, "titlePadding": 14}},
        "color": {"field": "setup", "type": "nominal",
          "scale": {"domain": ["Post-turbo DOC&DPF", "Pre-turbo DPF&DOC", "Pre-turbo DOC&DPF"], "range": ["#231f20", "#2e3192", "#ed1c24"]},
          "legend": null},
        "order": [{"field": "time"}, {"field": "temp"}]
      }
    },
    {
      "title": {"text": "c)", "anchor": "start", "frame": "group", "dx": -107, "offset": -11, "baseline": "alphabetic"},
      "width": 407,
      "height": 244,
      "data": {"name": "temps"},
      "transform": [{"filter": "datum.panel === 'c'"}],
      "mark": {"type": "line", "strokeWidth": 2.6},
      "encoding": {
        "x": {"field": "time", "type": "quantitative", "scale": {"domain": [0, 120], "nice": false},
          "axis": {"title": "Time [s]", "values": [0, 10, 20, 30, 40, 50, 60, 70, 80, 90, 100, 110, 120], "zindex": 1,
            "labelExpr": "datum.value % 20 === 0 ? datum.label : ''", "tickSize": 9, "labelPadding": 19, "titlePadding": 2,
            "gridColor": {"condition": {"test": "datum.value % 20 === 0", "value": "#a8a8a8"}, "value": "#d2d2d2"}}},
        "y": {"field": "temp", "type": "quantitative", "scale": {"domain": [50, 650], "nice": false, "zero": false},
          "axis": {"title": "VGT inlet temperature [ºC]", "values": [50, 100, 150, 200, 250, 300, 350, 400, 450, 500, 550, 600, 650],
            "labelExpr": "datum.value % 100 === 50 ? datum.label : ''", "zindex": 1,
            "tickSize": {"condition": {"test": "datum.value % 100 === 50", "value": 10}, "value": 6},
            "gridColor": "#b4b4b4", "labelPadding": 14, "titlePadding": 14}},
        "color": {"field": "setup", "type": "nominal",
          "scale": {"domain": ["Post-turbo DOC&DPF", "Pre-turbo DPF&DOC", "Pre-turbo DOC&DPF"], "range": ["#231f20", "#2e3192", "#ed1c24"]},
          "legend": null},
        "order": [{"field": "time"}, {"field": "temp"}]
      }
    }
  ]
}
